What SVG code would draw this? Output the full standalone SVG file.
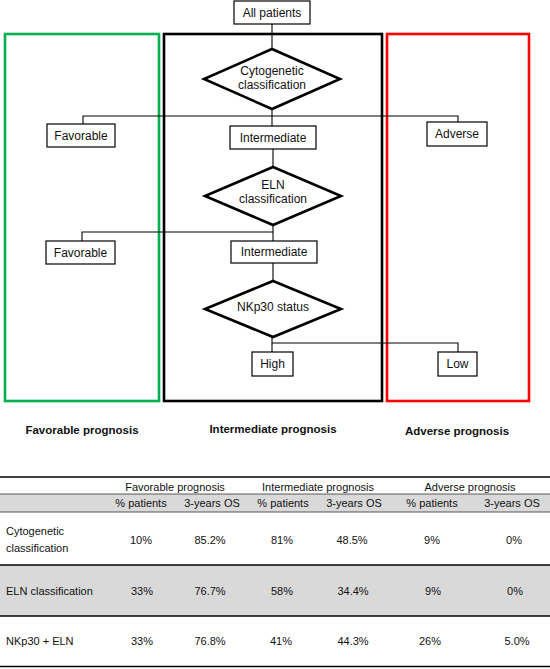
<svg xmlns="http://www.w3.org/2000/svg" width="550" height="669" viewBox="0 0 550 669">
<style>
  text { font-family: "Liberation Sans", Arial, sans-serif; fill: #111; }
  .n { font-size: 12px; text-anchor: middle; }
  .b { font-size: 11.5px; font-weight: bold; text-anchor: middle; }
  .t { font-size: 11px; text-anchor: middle; }
  .tl { font-size: 11px; text-anchor: start; }
  .box { fill: #fff; stroke: #000; stroke-width: 1.2; }
  .dia { fill: #fff; stroke: #000; stroke-width: 2.6; stroke-linejoin: miter; }
  .con { fill: none; stroke: #000; stroke-width: 1.1; }
  .grp { fill: none; stroke-width: 2.6; }
  .rule { stroke: #000; stroke-width: 1.5; }
  .thin { stroke: #333; stroke-width: 0.8; }
  .shade { fill: #d9d9d9; }
</style>

<!-- group frames -->
<g id="frame-favorable"><rect class="grp" x="5" y="34" width="154" height="367" stroke="#00b050"/></g>
<g id="frame-intermediate"><rect class="grp" x="164" y="34" width="218" height="367" stroke="#000"/></g>
<g id="frame-adverse"><rect class="grp" x="387" y="34" width="142" height="367" stroke="#ff0000"/></g>

<!-- connectors -->
<g id="connectors">
  <path class="con" d="M272 24 V49"/>
  <path class="con" d="M272 109 V116"/>
  <path class="con" d="M83 124 V116 H458 V122"/>
  <path class="con" d="M272 116 V126"/>
  <path class="con" d="M273 149 V167"/>
  <path class="con" d="M273 225 V241"/>
  <path class="con" d="M82 241 V232 H273"/>
  <path class="con" d="M273 263 V281"/>
  <path class="con" d="M272 337 V352"/>
  <path class="con" d="M272 343 H458 V352"/>
</g>

<g id="all-patients"><rect class="box" x="234" y="1" width="76" height="23"/><text class="n" x="272" y="17">All patients</text></g>

<g id="cytogenetic-decision"><polygon class="dia" points="272,49 340,79 272,109 204,79"/><text class="n" x="272" y="75">Cytogenetic</text><text class="n" x="272" y="89">classification</text></g>

<g id="cyto-favorable"><rect class="box" x="47" y="124" width="68" height="23"/><text class="n" x="81" y="140">Favorable</text></g>
<g id="cyto-intermediate"><rect class="box" x="230" y="126" width="86" height="23"/><text class="n" x="273" y="142">Intermediate</text></g>
<g id="cyto-adverse"><rect class="box" x="427" y="122" width="60" height="24"/><text class="n" x="457" y="138">Adverse</text></g>

<g id="eln-decision"><polygon class="dia" points="273,167 341,196 273,225 205,196"/><text class="n" x="273" y="189">ELN</text><text class="n" x="273" y="203">classification</text></g>

<g id="eln-favorable"><rect class="box" x="46" y="241" width="69" height="23"/><text class="n" x="80.5" y="257">Favorable</text></g>
<g id="eln-intermediate"><rect class="box" x="231" y="241" width="86" height="22"/><text class="n" x="274" y="256">Intermediate</text></g>

<g id="nkp30-decision"><polygon class="dia" points="273,281 341,309 273,337 205,309"/><text class="n" x="273" y="311">NKp30 status</text></g>

<g id="nkp30-high"><rect class="box" x="252" y="352" width="41" height="24"/><text class="n" x="272.5" y="368">High</text></g>
<g id="nkp30-low"><rect class="box" x="438" y="352" width="39" height="24"/><text class="n" x="457.5" y="368">Low</text></g>

<g id="labels">
  <text class="b" x="82" y="434">Favorable prognosis</text>
  <text class="b" x="273" y="433">Intermediate prognosis</text>
  <text class="b" x="457" y="435">Adverse prognosis</text>
</g>

<!-- table -->
<g id="table">
  <rect class="shade" x="0" y="494" width="550" height="18"/>
  <rect class="shade" x="0" y="565" width="550" height="51"/>
  <line class="rule" x1="0" y1="477" x2="550" y2="477"/>
  <line class="thin" x1="0" y1="494" x2="550" y2="494"/>
  <line class="thin" x1="0" y1="512" x2="550" y2="512"/>
  <line class="rule" x1="0" y1="565" x2="550" y2="565"/>
  <line class="rule" x1="0" y1="616" x2="550" y2="616"/>
  <line class="rule" x1="0" y1="666.5" x2="550" y2="666.5"/>

  <text class="t" x="175" y="491">Favorable prognosis</text>
  <text class="t" x="318" y="491">Intermediate prognosis</text>
  <text class="t" x="470" y="491">Adverse prognosis</text>

  <text class="t" x="141" y="507">% patients</text>
  <text class="t" x="212" y="507">3-years OS</text>
  <text class="t" x="283" y="507">% patients</text>
  <text class="t" x="354" y="507">3-years OS</text>
  <text class="t" x="432" y="507">% patients</text>
  <text class="t" x="512" y="507">3-years OS</text>

  <text class="tl" x="6" y="535">Cytogenetic</text>
  <text class="tl" x="6" y="552">classification</text>
  <text class="t" x="141" y="544">10%</text>
  <text class="t" x="210" y="544">85.2%</text>
  <text class="t" x="282" y="544">81%</text>
  <text class="t" x="352" y="544">48.5%</text>
  <text class="t" x="432" y="544">9%</text>
  <text class="t" x="514" y="544">0%</text>

  <text class="tl" x="6" y="595">ELN classification</text>
  <text class="t" x="142" y="595">33%</text>
  <text class="t" x="210" y="595">76.7%</text>
  <text class="t" x="282" y="595">58%</text>
  <text class="t" x="353" y="595">34.4%</text>
  <text class="t" x="433" y="595">9%</text>
  <text class="t" x="515" y="595">0%</text>

  <text class="tl" x="6" y="645">NKp30 + ELN</text>
  <text class="t" x="142" y="645">33%</text>
  <text class="t" x="210" y="645">76.8%</text>
  <text class="t" x="281" y="645">41%</text>
  <text class="t" x="353" y="645">44.3%</text>
  <text class="t" x="430" y="645">26%</text>
  <text class="t" x="517" y="645">5.0%</text>
</g>
</svg>
